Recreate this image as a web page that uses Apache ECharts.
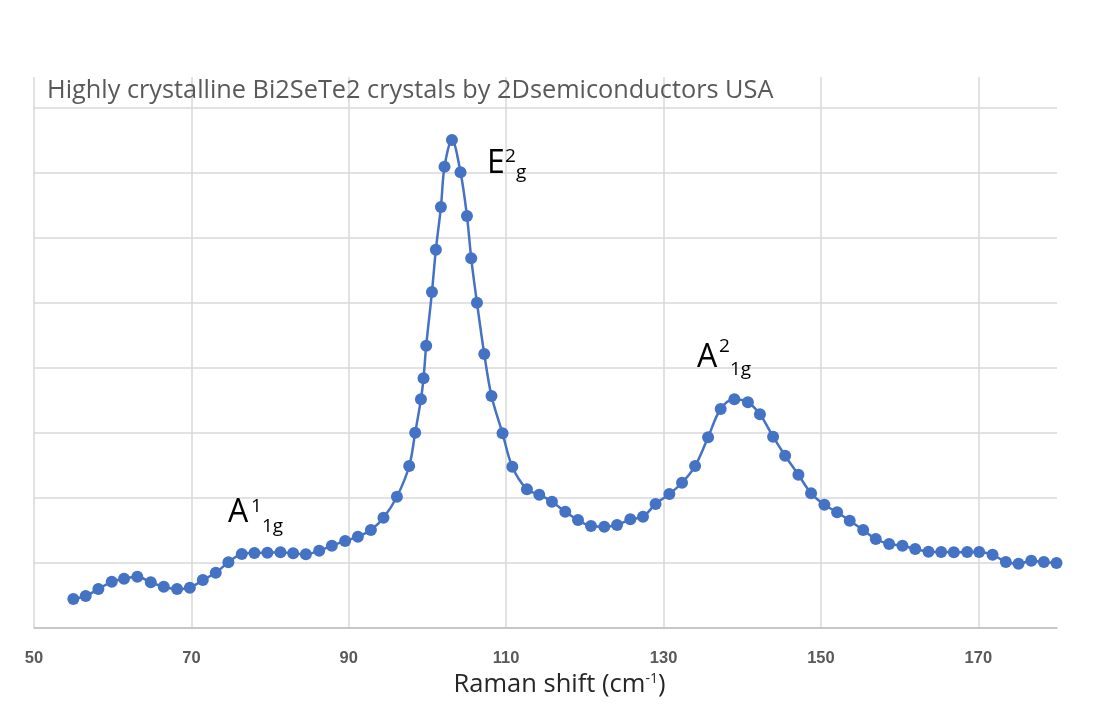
<!DOCTYPE html>
<html>
<head>
<meta charset="utf-8">
<script src="https://cdn.jsdelivr.net/npm/echarts@6/dist/echarts.min.js"></script>
<style>
html,body{margin:0;padding:0;background:#fff;}
#chart{width:1094px;height:713px;}
</style>
</head>
<body>
<div id="chart"></div>
<script>
// Raman shift (cm-1)
const ramanShift = [55.00,56.57,58.18,59.88,61.44,63.13,64.84,66.49,68.18,69.80,
  71.45,73.10,74.70,76.41,78.01,79.66,81.32,82.93,84.55,86.24,
  87.85,89.54,91.16,92.81,94.41,96.12,97.68,98.44,99.17,99.50,
  99.84,100.57,101.07,101.71,102.17,103.11,104.20,105.02,105.56,106.29,
  107.22,108.14,109.54,110.78,112.64,114.21,115.82,117.51,119.13,120.78,
  122.47,124.09,125.78,127.39,128.99,130.74,132.35,134.01,135.66,137.26,
  139.00,140.72,142.25,143.92,145.45,147.14,148.75,150.44,152.06,153.66,
  155.37,156.97,158.67,160.36,161.98,163.67,165.28,166.89,168.59,170.11,
  171.81,173.50,175.11,176.73,178.33,179.94];
// Intensity (arbitrary units, one unit per gridline)
const intensity = [0.446,0.492,0.600,0.712,0.758,0.789,0.703,0.635,0.600,0.620,
  0.738,0.851,1.011,1.138,1.154,1.158,1.165,1.149,1.134,1.189,
  1.266,1.338,1.405,1.508,1.697,2.020,2.492,3.005,3.518,3.842,
  4.343,5.169,5.820,6.477,7.097,7.508,7.011,6.338,5.688,5.005,
  4.215,3.569,2.995,2.482,2.134,2.051,1.943,1.789,1.662,1.569,
  1.558,1.585,1.672,1.712,1.908,2.062,2.235,2.492,2.934,3.369,
  3.518,3.472,3.288,2.943,2.651,2.358,2.072,1.897,1.780,1.651,
  1.508,1.369,1.292,1.266,1.215,1.174,1.169,1.165,1.169,1.169,
  1.128,1.015,0.989,1.035,1.015,1.000];
const xTicks = [50,70,90,110,130,150,170];
const titleText = 'Highly crystalline Bi2SeTe2 crystals by 2Dsemiconductors USA';

const data = ramanShift.map((x,i)=>[x,intensity[i]]);
const chart = echarts.init(document.getElementById('chart'));
const F = '"Open Sans", sans-serif';
function txt(t,x,y,size){
  return {type:'text',x:x,y:y,z:100,style:{text:t,fontFamily:'Open Sans',fontSize:size,fill:'#000',
    textVerticalAlign:'middle',verticalAlign:'middle',textAlign:'left',align:'left'}};
}
chart.setOption({
  animation:false,
  backgroundColor:'#fff',
  title:{text:titleText,left:42,top:73,
    textStyle:{fontFamily:F,fontSize:25.3,fontWeight:'normal',color:'#595959'}},
  grid:{left:34,right:37,top:77,bottom:85,containLabel:false},
  xAxis:{type:'value',min:50,max:180,interval:20,
    axisLine:{show:true,lineStyle:{color:'#bfbfbf',width:1.5}},
    axisTick:{show:false},
    axisLabel:{show:true,margin:22,showMaxLabel:false,
      fontFamily:'"Liberation Sans", Arial, sans-serif',fontWeight:'bold',fontSize:16.5,color:'#595959',
      formatter:function(v){return xTicks.indexOf(v)>=0?String(v):'';}},
    splitLine:{show:true,showMaxLine:false,showMinLine:true,lineStyle:{color:'#d9d9d9',width:1.5}},
    name:'{a|Raman shift (cm}{s|-1}{a|)}',nameLocation:'middle',nameGap:36,
    nameTextStyle:{padding:[0,0,0,28],rich:{
      a:{fontFamily:F,fontSize:25.5,color:'#262626'},
      s:{fontFamily:F,fontSize:14,color:'#262626',verticalAlign:'top',padding:[0,0,9,0]}
    }}
  },
  yAxis:{type:'value',min:0,max:8.477,interval:1,
    axisLine:{show:false},axisTick:{show:false},axisLabel:{show:false},
    splitLine:{show:true,showMaxLine:false,lineStyle:{color:'#d9d9d9',width:1.5}}},
  series:[{type:'line',data:data,smooth:0.35,
    symbol:'circle',symbolSize:12,
    lineStyle:{color:'#4472c4',width:2.5},
    itemStyle:{color:'#4472c4'},z:3}],
  graphic:[
    txt('A',228,513,32), txt('1',251,507,19), txt('1g',262,527,19),
    txt('E',487,164,32), txt('2',505,157,19), txt('g',516,173,19),
    txt('A',697,358,32), txt('2',719,347,19), txt('1g',730,370,19)
  ]
});
</script>
</body>
</html>
